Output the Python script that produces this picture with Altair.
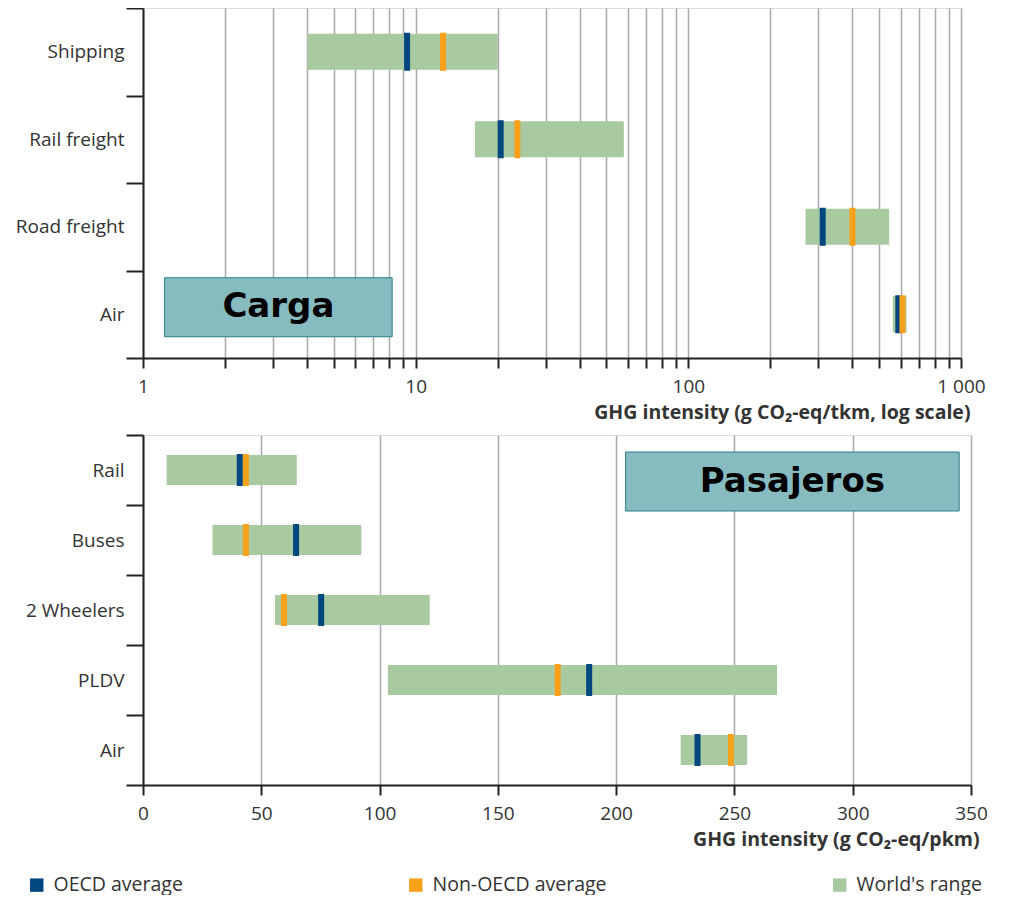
import altair as alt
import pandas as pd
import math

# ---------------- Freight (log scale) ----------------
freight_modes = ["Shipping", "Rail freight", "Road freight", "Air"]
freight_range_min = [4, 16.5, 269, 562]
freight_range_max = [20, 58, 545, 631]
freight_oecd = [9.3, 20.5, 311, 589]
freight_non_oecd = [12.6, 23.6, 400, 610]
freight_ticks = [1, 2, 3, 4, 5, 6, 7, 8, 9, 10, 20, 30, 40, 50, 60, 70, 80, 90,
                 100, 200, 300, 400, 500, 600, 700, 800, 900, 1000]
freight_title = "GHG intensity (g CO\u2082-eq/tkm, log scale)"
freight_box = {"label": "Carga", "mode": "Air", "lo": 1.2, "hi": 8.2}

# ---------------- Passenger (linear) ----------------
pass_modes = ["Rail", "Buses", "2 Wheelers", "PLDV", "Air"]
pass_range_min = [10, 29.4, 55.8, 103.5, 227.3]
pass_range_max = [65, 92.3, 121.2, 268, 255.4]
pass_oecd = [40.9, 64.7, 75.3, 188.6, 234.4]
pass_non_oecd = [43.5, 43.5, 59.6, 175.3, 248.5]
pass_ticks = [0, 50, 100, 150, 200, 250, 300, 350]
pass_title = "GHG intensity (g CO\u2082-eq/pkm)"
pass_box = {"label": "Pasajeros", "mode": "Rail", "lo": 204, "hi": 345}

series = ["OECD average", "Non-OECD average", "World's range"]
series_colors = ["#00467f", "#f7a11a", "#a9c9a0"]

FONT = "Open Sans"
INK = "#222222"
TXT = "#333333"

legend = alt.Legend(
    title=None, orient="none", direction="horizontal", legendX=-116, legendY=867,
    symbolType="square", symbolSize=180, symbolStrokeWidth=0, symbolOpacity=1,
    labelFontSize=19.5, labelFont=FONT, labelColor=TXT, labelLimit=400,
    columnPadding=223, labelOffset=7,
)
color = alt.Color("series:N", scale=alt.Scale(domain=series, range=series_colors),
                  legend=legend)


def panel(modes, lo, hi, oecd, non, box, xscale, xaxis_kwargs, width,
          bar_size, box_offset, box_center, title_dx):
    n = len(modes)
    range_df = pd.DataFrame({"mode": modes, "lo": lo, "hi": hi,
                             "series": ["World's range"] * n})
    avg_df = pd.DataFrame({"mode": modes + modes, "value": oecd + non,
                           "series": ["OECD average"] * n + ["Non-OECD average"] * n})
    box_df = pd.DataFrame({"mode": [box["mode"]], "lo": [box["lo"]], "hi": [box["hi"]],
                           "label": [box["label"]], "center": [box_center]})

    yaxis = alt.Axis(title=None, labelFontSize=19, labelFont=FONT, labelColor=TXT,
                     tickBand="extent", tickSize=17, tickWidth=2, tickColor=INK,
                     domainColor=INK, domainWidth=2, labelPadding=2, grid=False)
    y = alt.Y("mode:N", sort=modes, axis=yaxis,
              scale=alt.Scale(paddingInner=0, paddingOuter=0))
    xaxis = alt.Axis(grid=True, gridColor="#a9a9b1", gridWidth=1.5,
                     tickSize=10, tickWidth=2, tickColor=INK,
                     domainColor=INK, domainWidth=2,
                     labelFontSize=19, labelFont=FONT, labelColor=TXT,
                     labelPadding=9, labelFlush=False, labelOverlap=False,
                     titleFont=FONT, titleFontSize=19.5, titleFontWeight="bold",
                     titleColor=TXT, titleAlign="right", titleAnchor="end",
                     titleX=width + title_dx, titleY=60, titleBaseline="alphabetic",
                     **xaxis_kwargs)

    box_layer = alt.Chart(box_df).mark_bar(
        size=59, color="#86bbc0", stroke="#2a7f8a", strokeWidth=1, yOffset=box_offset
    ).encode(x=alt.X("lo:Q", scale=xscale, axis=xaxis), x2="hi:Q", y=y)
    box_text = alt.Chart(box_df).mark_text(
        font="DejaVu Sans", fontWeight="bold", fontSize=34, color="black",
        baseline="middle", yOffset=box_offset
    ).encode(x=alt.X("center:Q", scale=xscale), y=y, text="label:N")
    bars = alt.Chart(range_df).mark_bar(size=bar_size).encode(
        x=alt.X("lo:Q", scale=xscale), x2="hi:Q", y=y, color=color)
    ticks = alt.Chart(avg_df).mark_tick(thickness=6, size=bar_size + 2, opacity=1).encode(
        x=alt.X("value:Q", scale=xscale), y=y, color=color)

    return alt.layer(box_layer, box_text, bars, ticks).properties(width=width, height=350)


top = panel(
    freight_modes, freight_range_min, freight_range_max, freight_oecd, freight_non_oecd,
    freight_box,
    alt.Scale(type="log", domain=[1, 1000]),
    dict(values=freight_ticks, title=freight_title,
         labelExpr="datum.value == 1000 ? '1 000' : ((datum.value == 1 || datum.value == 10 || datum.value == 100) ? datum.label : '')"),
    818, 36, -7, math.sqrt(freight_box["lo"] * freight_box["hi"]), 9,
)

bottom = panel(
    pass_modes, pass_range_min, pass_range_max, pass_oecd, pass_non_oecd,
    pass_box,
    alt.Scale(domain=[0, 350], nice=False),
    dict(values=pass_ticks, title=pass_title),
    828, 30, 11.5, (pass_box["lo"] + pass_box["hi"]) / 2, 8,
)

chart = alt.vconcat(top, bottom, spacing=3).properties(
    padding={"left": 6, "top": -10, "right": 5, "bottom": 0}
).configure_view(stroke=INK, strokeWidth=2).configure(font=FONT)

chart.save("out.html", embed_options={"renderer": "svg", "actions": False})
